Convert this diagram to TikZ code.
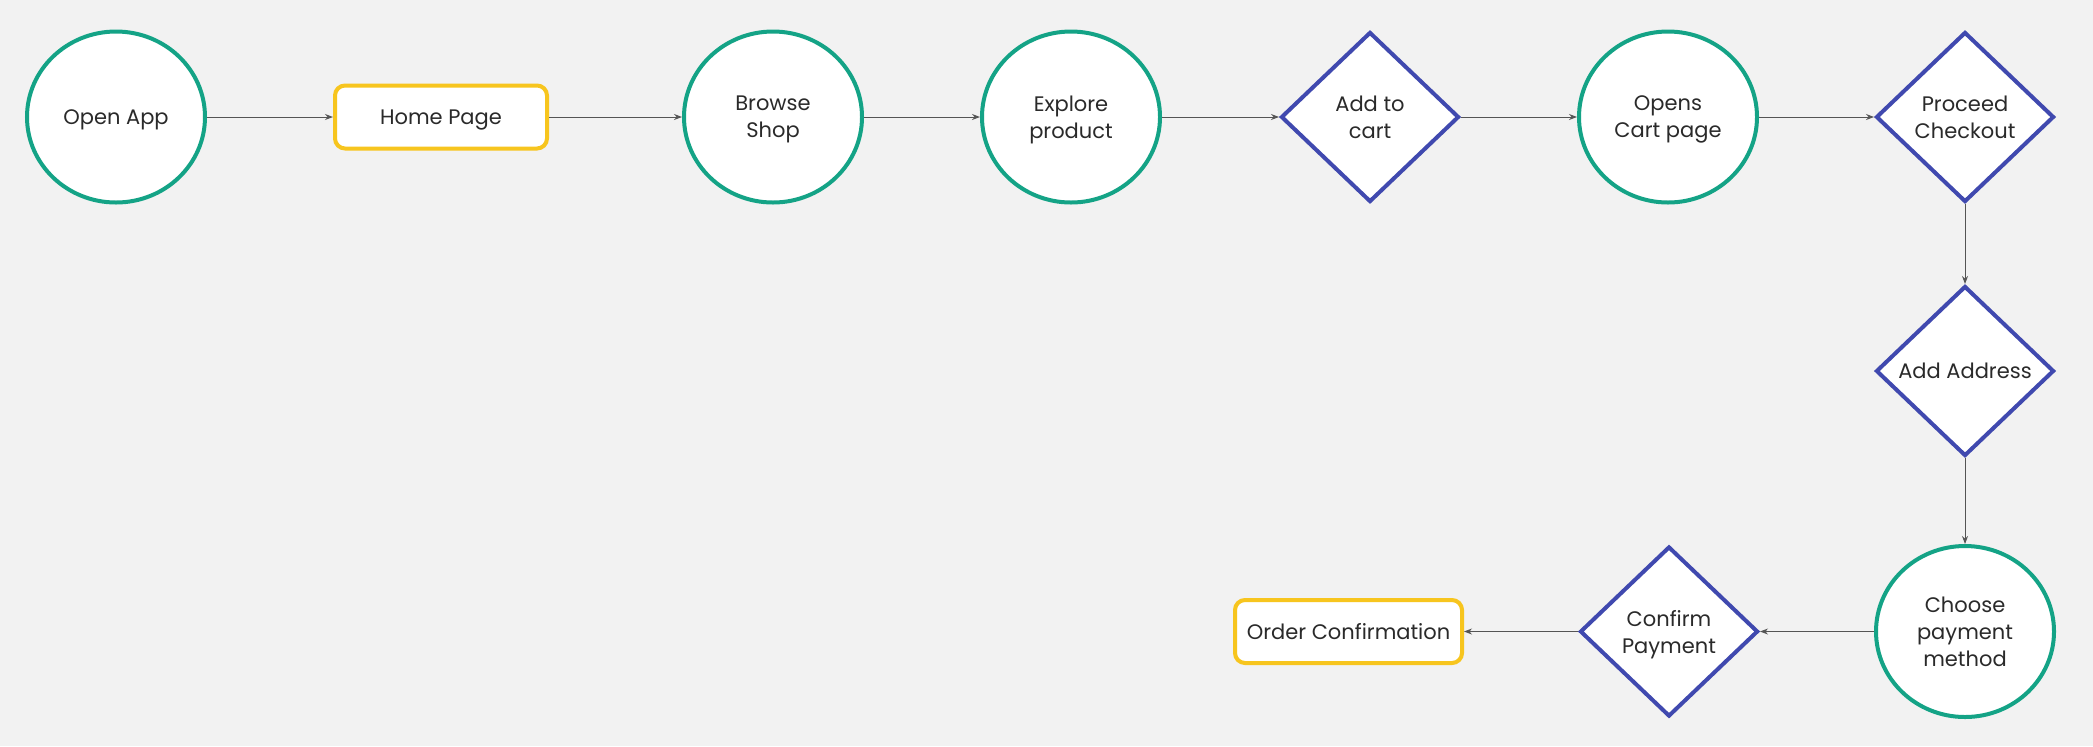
\documentclass[tikz,border=0pt]{standalone}
\usepackage{fontspec}
\setmainfont{Poppins}
\usepackage{xcolor}
\usetikzlibrary{shapes.geometric,arrows.meta,positioning,backgrounds}
\definecolor{FlowTeal}{HTML}{14A386}
\definecolor{FlowIndigo}{HTML}{4049AF}
\definecolor{FlowYellow}{HTML}{F7C51E}
\definecolor{FlowCanvas}{HTML}{F2F2F2}
\definecolor{FlowInk}{HTML}{2A2A2A}
\definecolor{FlowLine}{HTML}{555555}
\tikzset{
    % Oval steps
    stage/.style={
        ellipse,
        draw=FlowTeal,
        line width=2pt,
        fill=white,
        text=FlowInk,
        minimum width=89pt,
        minimum height=85.5pt,
        inner sep=0pt,
        text depth=0pt,
        align=center,
        font=\fontsize{10.5}{13.5}\selectfont
    },
    % Rounded page boxes
    screen/.style={
        rectangle,
        rounded corners=5pt,
        draw=FlowYellow,
        line width=2pt,
        fill=white,
        text=FlowInk,
        minimum width=106pt,
        minimum height=31.5pt,
        inner sep=0pt,
        text depth=0pt,
        align=center,
        font=\fontsize{10.5}{13.5}\selectfont
    },
    decision/.style={
        diamond,
        draw=FlowIndigo,
        line width=2pt,
        fill=white,
        text=FlowInk,
        minimum width=89pt,
        minimum height=85pt,
        inner sep=0pt,
        text depth=0pt,
        align=center,
        font=\fontsize{10.5}{13.5}\selectfont
    },
    arrow/.style={
        -{Stealth[length=4pt,width=3pt]},
        line width=0.5pt,
        color=FlowLine
    }
}

\begin{document}
\begin{tikzpicture}
        % Canvas
        \useasboundingbox (0,0) rectangle (1046.5pt,-373pt);

        % Top row
        \node[stage] (open) at (58pt,-58.5pt) {Open App};
        \node[screen, right=63pt of open] (home) {Home Page};
        \node[stage, right=66.5pt of home] (browse) {Browse\\Shop};
        \node[stage, right=58pt of browse] (explore) {Explore\\product};
        \node[decision, right=58.5pt of explore] (cart) {Add to\\cart};
        \node[stage, right=58pt of cart] (cartpage) {Opens\\Cart page};
        \node[decision, right=57.5pt of cartpage] (checkout) {Proceed\\Checkout};

        % Right column
        \node[decision, below=40pt of checkout] (address) {Add Address};
        \node[stage, below=43pt of address] (method) {Choose\\payment\\method};

        % Bottom row
        \node[decision, left=57pt of method] (confirm) {Confirm\\Payment};
        \node[screen, minimum width=113.5pt, left=57pt of confirm] (order) {Order Confirmation};

        % Arrows
        \draw[arrow] (open) -- (home);
        \draw[arrow] (home) -- (browse);
        \draw[arrow] (browse) -- (explore);
        \draw[arrow] (explore) -- (cart);
        \draw[arrow] (cart) -- (cartpage);
        \draw[arrow] (cartpage) -- (checkout);
        \draw[arrow] (checkout) -- (address);
        \draw[arrow] (address) -- (method);
        \draw[arrow] (method) -- (confirm);
        \draw[arrow] (confirm) -- (order);

        \begin{scope}[on background layer]
            \fill[FlowCanvas] (0,0) rectangle (1046.5pt,-373pt);
        \end{scope}
    \end{tikzpicture}
\end{document}
